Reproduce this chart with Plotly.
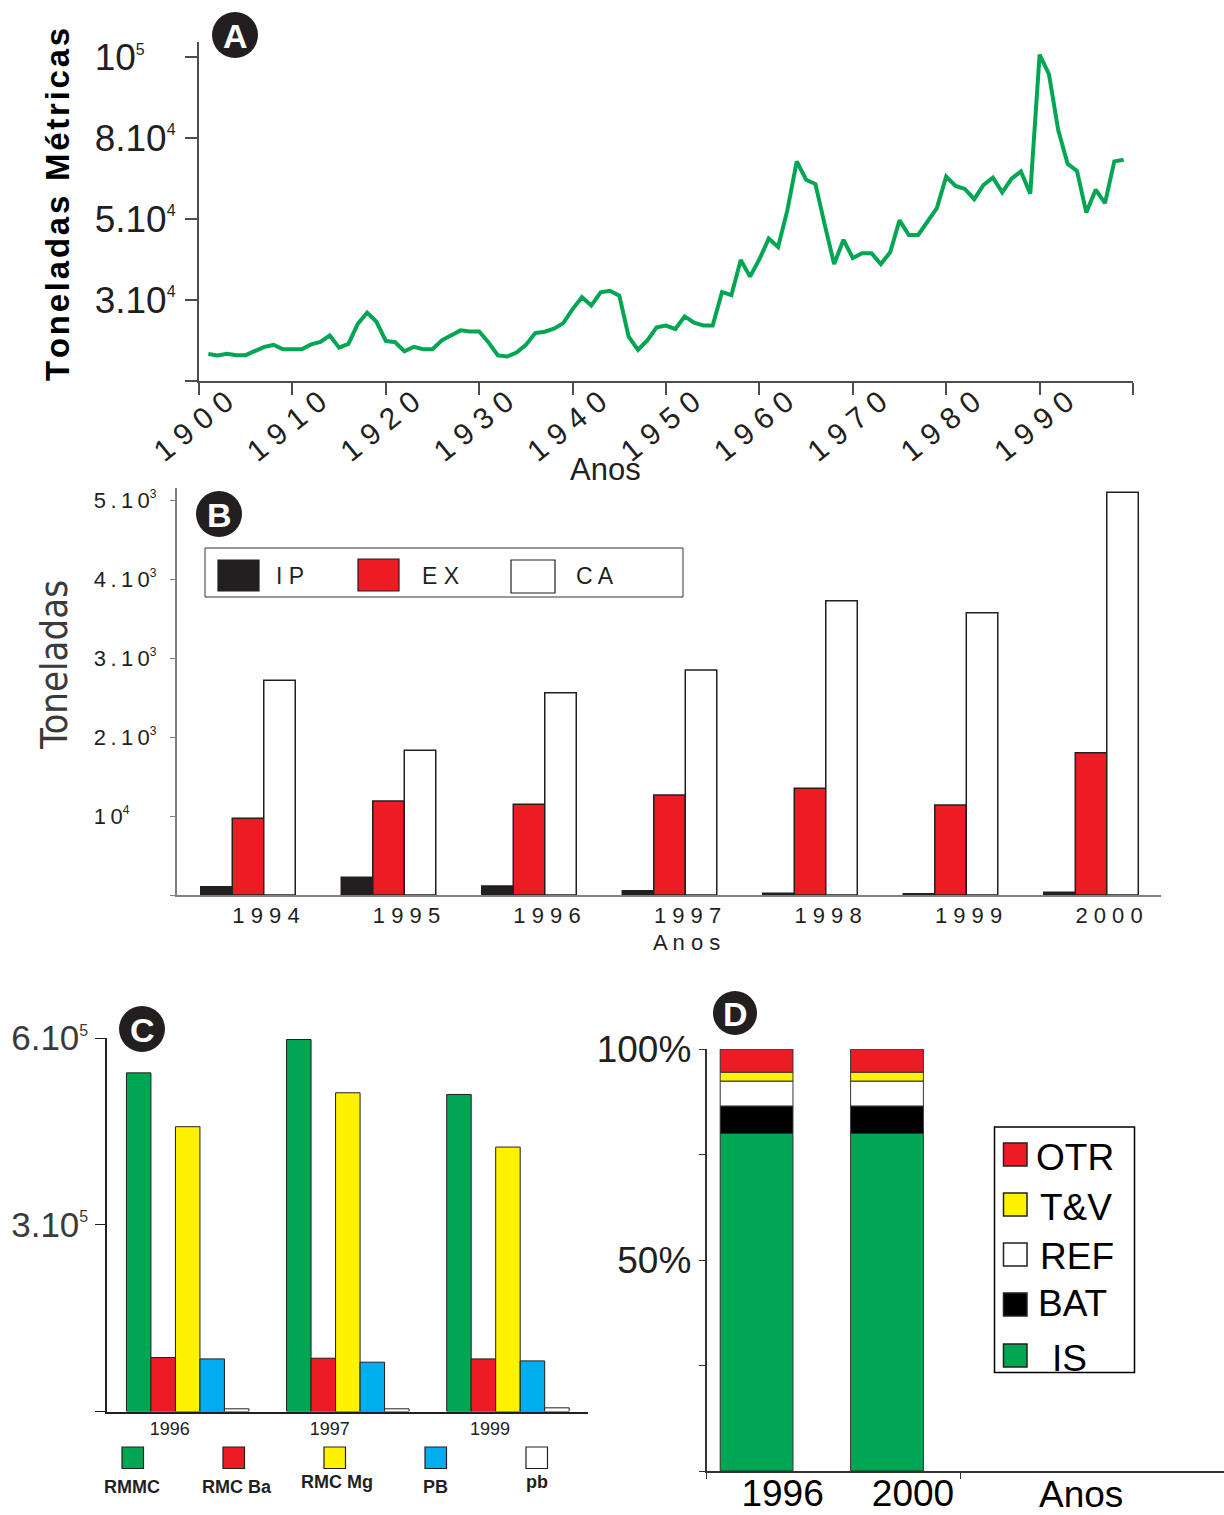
import numpy as np
import plotly.graph_objects as go

W, H = 1224, 1515
FONT = "Liberation Sans, Arial, sans-serif"
INK = "#231f20"

# ---------------- Panel A: annual production (metric tonnes) ----------------
YEARS_A = list(range(1901, 2000))
TONNES_A = [
    9800, 9300, 9900, 9400, 9400, 11000, 12500, 13200, 11600, 11600,
    11600, 13400, 14300, 16700, 12200, 13600, 21000, 25200, 21800, 14700,
    14200, 10800, 12500, 11600, 11600, 14900, 16600, 18600, 18200, 18200,
    14100, 9300, 8900, 10400, 13200, 17600, 18100, 19200, 21300, 26500,
    30600, 27800, 31800, 32200, 31000, 16300, 11400, 14900, 19700, 20400,
    19100, 23800, 21500, 20400, 20400, 31900, 31100, 39800, 35700, 40000,
    45100, 43000, 53300, 71300, 64500, 62900, 48500, 38800, 44800, 40300,
    41500, 41500, 38800, 41700, 49600, 46000, 46000, 49300, 54000, 65700,
    62200, 61100, 57300, 62600, 65300, 59800, 64900, 67600, 59300, 100600,
    95800, 81900, 70400, 67800, 52300, 60800, 55800, 71300, 71900,
]
A_TICK_VALUES = [0, 30000, 50000, 80000, 100000]
A_TICK_LABELS = ["", "3.10|4", "5.10|4", "8.10|4", "10|5"]
A_DECADES = list(range(1900, 2001, 10))

# ---------------- Panel B: IP / EX / CA (tonnes) ----------------
YEARS_B = [1994, 1995, 1996, 1997, 1998, 1999, 2000]
IP = [105, 224, 114, 55, 21, 17, 34]
EX = [970, 1190, 1148, 1266, 1350, 1139, 1802]
CA = [2717, 1831, 2561, 2848, 3726, 3574, 5097]
B_NAMES = ["IP", "EX", "CA"]
B_COLORS = ["#231f20", "#ed1c24", "#ffffff"]
B_TICK_VALUES = [0, 1000, 2000, 3000, 4000, 5000]
B_TICK_LABELS = ["", "10|4", "2.10|3", "3.10|3", "4.10|3", "5.10|3"]

# ---------------- Panel C: regions (tonnes) ----------------
YEARS_C = ["1996", "1997", "1999"]
RMMC = [544000, 597600, 509300]
RMC_BA = [86700, 85600, 84500]
RMC_MG = [457500, 512000, 424800]
PB_UP = [84500, 79200, 81300]
PB_LOW = [4300, 4300, 5900]
C_NAMES = ["RMMC", "RMC Ba", "RMC Mg", "PB", "pb"]
C_COLORS = ["#00a651", "#ed1c24", "#fff200", "#00aeef", "#ffffff"]
C_TICK_VALUES = [0, 300000, 600000]
C_TICK_LABELS = ["", "3.10|5", "6.10|5"]

# ---------------- Panel D: share by use (%) ----------------
YEARS_D = ["1996", "2000"]
IS = [80.0, 80.0]
BAT = [6.5, 6.5]
REF = [5.9, 5.9]
TV = [2.1, 2.1]
OTR = [5.5, 5.5]
D_NAMES = ["IS", "BAT", "REF", "T&V", "OTR"]
D_COLORS = ["#00a651", "#000000", "#ffffff", "#fff200", "#ed1c24"]


def px(x):
    return x / W


def py(y):
    return 1 - y / H


def spaced(s, sep=" "):
    return sep.join(list(s))


def power_label(label, sup_size, sep="", width=0):
    """'3.10|4' -> '3.10' with a small superscript exponent; shorter
    mantissas are padded with fixed-width spaces so the labels line up
    on their left edge."""
    if not label:
        return ""
    base, exp = label.split("|")
    pad = ""
    for ch in range(width - len(base)):
        pad += "\u2008" if ch % 2 else "\u2007"
        if sep:
            pad += sep
    return "%s<sup><span style='font-size:%dpx'>%s</span></sup>%s" % (
        spaced(base, sep) if sep else base, sup_size, exp, pad)


fig = go.Figure()

# --- A: line on the uneven tonnage scale
scale_vals = A_TICK_VALUES + [A_TICK_VALUES[-1] + 20000]
scale_pos = list(range(len(scale_vals)))
pos_a = np.interp(TONNES_A, scale_vals, scale_pos)
fig.add_trace(go.Scatter(x=YEARS_A, y=pos_a, mode="lines",
                         line=dict(color="#00a651", width=4),
                         xaxis="x", yaxis="y", showlegend=False))

# --- B: grouped bars
bw_b = 0.2242
for i, (vals, col) in enumerate(zip([IP, EX, CA], B_COLORS)):
    fig.add_trace(go.Bar(x=YEARS_B, y=vals, width=bw_b, offset=(i - 1.5) * bw_b,
                         marker=dict(color=col, line=dict(color=INK, width=1.5)),
                         xaxis="x2", yaxis="y2", showlegend=False, name=B_NAMES[i]))

# --- C: grouped bars
bw_c = 0.153
for i, (vals, col) in enumerate(zip([RMMC, RMC_BA, RMC_MG, PB_UP, PB_LOW], C_COLORS)):
    fig.add_trace(go.Bar(x=list(range(len(YEARS_C))), y=vals, width=bw_c,
                         offset=(i - 2.5) * bw_c,
                         marker=dict(color=col, line=dict(color=INK, width=1)),
                         xaxis="x3", yaxis="y3", showlegend=False, name=C_NAMES[i]))

# --- D: stacked percentage bars
d_series = [IS, BAT, REF, TV, OTR]
bases = np.vstack([np.zeros(len(YEARS_D))] + [np.array(s) for s in d_series[:-1]]).cumsum(axis=0)
bw_d = 0.558
for i, (vals, col) in enumerate(zip(d_series, D_COLORS)):
    fig.add_trace(go.Bar(x=list(range(len(YEARS_D))), y=vals, base=bases[i], width=bw_d,
                         offset=-bw_d / 2,
                         marker=dict(color=col, line=dict(color="#333333", width=1)),
                         xaxis="x4", yaxis="y4", showlegend=False, name=D_NAMES[i]))

shapes = []
annotations = []

# circled panel letters
for letter, cx, cy, r in [("A", 235, 35, 23), ("B", 219, 514, 23),
                          ("C", 142, 1029, 23), ("D", 735, 1013, 22)]:
    shapes.append(dict(type="circle", xref="paper", yref="paper",
                       x0=px(cx - r), x1=px(cx + r), y0=py(cy + r), y1=py(cy - r),
                       fillcolor=INK, line=dict(width=0), layer="above"))
    annotations.append(dict(text="<b>%s</b>" % letter, x=px(cx), y=py(cy + 1),
                            xref="paper", yref="paper", showarrow=False,
                            xanchor="center", yanchor="middle",
                            font=dict(family=FONT, size=34, color="white")))

# A axis titles
annotations.append(dict(text="<b>" + spaced("Toneladas Métricas", "\u200a") + "</b>",
                        x=px(58), y=py(205), xref="paper", yref="paper",
                        showarrow=False, textangle=-90, xanchor="center", yanchor="middle",
                        font=dict(family=FONT, size=33, color="black")))
annotations.append(dict(text="Anos", x=px(605), y=py(470), xref="paper", yref="paper",
                        showarrow=False, xanchor="center", yanchor="middle",
                        font=dict(family=FONT, size=31, color=INK)))

# B axis titles and legend
annotations.append(dict(text="Toneladas", x=px(54), y=py(665), xref="paper", yref="paper",
                        showarrow=False, textangle=-90, xanchor="center", yanchor="middle",
                        font=dict(family="Liberation Sans Narrow, Arial Narrow, DejaVu Sans Condensed, Liberation Sans",
                                  size=38, color="#3a3a3a")))
annotations.append(dict(text=spaced("Anos"), x=px(686), y=py(942), xref="paper", yref="paper",
                        showarrow=False, xanchor="center", yanchor="middle",
                        font=dict(family=FONT, size=22, color=INK)))
shapes.append(dict(type="rect", xref="paper", yref="paper",
                   x0=px(205), x1=px(683), y0=py(597), y1=py(548),
                   line=dict(color="#333333", width=1), fillcolor="white"))
b_leg = [(218, 259, 560, 591, 274), (358, 399, 559, 591, 420), (511, 555, 560, 593, 574)]
for (x0, x1, y0, y1, tx), name, col in zip(b_leg, B_NAMES, B_COLORS):
    shapes.append(dict(type="rect", xref="paper", yref="paper",
                       x0=px(x0), x1=px(x1), y0=py(y1), y1=py(y0),
                       fillcolor=col, line=dict(color=INK, width=1.2)))
    annotations.append(dict(text=spaced(name), x=px(tx), y=py(576), xref="paper", yref="paper",
                            showarrow=False, xanchor="left", yanchor="middle",
                            font=dict(family=FONT, size=23, color=INK)))

# C legend
c_leg_x = [122, 223, 324, 425, 526]
c_lab = [(132, 1487), (237, 1487), (337, 1482), (435, 1487), (537, 1482)]
for x0, (lx, ly), name, col in zip(c_leg_x, c_lab, C_NAMES, C_COLORS):
    shapes.append(dict(type="rect", xref="paper", yref="paper",
                       x0=px(x0), x1=px(x0 + 21.5), y0=py(1468.5), y1=py(1447),
                       fillcolor=col, line=dict(color=INK, width=1.2)))
    annotations.append(dict(text="<b>%s</b>" % name, x=px(lx), y=py(ly), xref="paper", yref="paper",
                            showarrow=False, xanchor="center", yanchor="middle",
                            font=dict(family=FONT, size=18, color=INK)))

# D legend and title
annotations.append(dict(text="Anos", x=px(1081), y=py(1494), xref="paper", yref="paper",
                        showarrow=False, xanchor="center", yanchor="middle",
                        font=dict(family=FONT, size=37, color="black")))
shapes.append(dict(type="rect", xref="paper", yref="paper",
                   x0=px(994.5), x1=px(1134.5), y0=py(1372.5), y1=py(1127),
                   line=dict(color="black", width=1.5), fillcolor="white"))
d_leg = [(1143, 1034, 1157), (1193, 1038, 1207), (1243, 1038, 1256),
         (1293, 1036, 1303), (1344, 1050, 1358)]
for (sy, tx, ty), name, col in zip(d_leg, D_NAMES[::-1], D_COLORS[::-1]):
    shapes.append(dict(type="rect", xref="paper", yref="paper",
                       x0=px(1003.5), x1=px(1027), y0=py(sy + 23), y1=py(sy),
                       fillcolor=col, line=dict(color="#222222", width=1.5)))
    annotations.append(dict(text=name, x=px(tx), y=py(ty), xref="paper", yref="paper",
                            showarrow=False, xanchor="left", yanchor="middle",
                            font=dict(family=FONT, size=37, color="black")))

axis_common = dict(showgrid=False, zeroline=False, showline=True, fixedrange=True,
                   automargin=False)

fig.update_layout(
    width=W, height=H, margin=dict(l=0, r=0, t=0, b=0, pad=0, autoexpand=False),
    paper_bgcolor="white", plot_bgcolor="rgba(0,0,0,0)",
    barmode="overlay", showlegend=False,
    font=dict(family=FONT, color=INK),
    shapes=shapes, annotations=annotations,
    xaxis=dict(axis_common, domain=[px(199), px(1133)], range=[1900, 2000], anchor="y",
               linecolor="#4d4d4d", linewidth=2, ticks="outside", ticklen=12, tickwidth=1.5,
               tickcolor="#4d4d4d", tickmode="array", tickvals=A_DECADES,
               ticktext=[spaced(str(d)) if d < 2000 else "" for d in A_DECADES],
               tickangle=-39, ticklabelshift=27, ticklabelstandoff=-22,
               tickfont=dict(family=FONT, size=30, color=INK)),
    yaxis=dict(axis_common, domain=[py(380.5), py(42)], range=[0, (380.5 - 42) / 80.85],
               anchor="x", linecolor="#4d4d4d", linewidth=2, ticks="outside", ticklen=12,
               tickwidth=1.5, tickcolor="#4d4d4d", tickmode="array",
               tickvals=list(range(len(A_TICK_VALUES))),
               ticktext=[power_label(t, 16, width=4) for t in A_TICK_LABELS],
               ticklabelstandoff=2, tickfont=dict(family=FONT, size=37, color=INK)),
    xaxis2=dict(axis_common, domain=[px(176.7), px(1161)], range=[1993.4925, 2000.498],
                anchor="y2", linecolor="#808080", linewidth=1.5, ticks="",
                tickmode="array", tickvals=YEARS_B, ticktext=[spaced(str(y)) for y in YEARS_B],
                ticklabelshift=18, tickfont=dict(family=FONT, size=22, color=INK)),
    yaxis2=dict(axis_common, domain=[py(895), py(488)], range=[0, 5152], anchor="x2",
                linecolor="#808080", linewidth=1.5, ticks="outside", ticklen=5, tickcolor="#808080",
                tickmode="array", tickvals=B_TICK_VALUES,
                ticktext=[power_label(t, 12, "\u2009", width=4) for t in B_TICK_LABELS],
                ticklabelstandoff=9, tickfont=dict(family=FONT, size=22, color=INK)),
    xaxis3=dict(axis_common, domain=[px(107), px(588)], range=[-0.504, 2.5], anchor="y3",
                linecolor=INK, linewidth=1.5, ticks="", tickmode="array",
                tickvals=list(range(len(YEARS_C))), ticktext=YEARS_C, ticklabelshift=-18,
                tickfont=dict(family=FONT, size=18, color=INK)),
    yaxis3=dict(axis_common, domain=[py(1411.5), py(1038)], range=[0, 600000], anchor="x3",
                linecolor=INK, linewidth=1.5, ticks="outside", ticklen=10, tickcolor=INK,
                tickmode="array", tickvals=C_TICK_VALUES,
                ticktext=[power_label(t, 16) for t in C_TICK_LABELS],
                ticklabelstandoff=0, tickfont=dict(family=FONT, size=35, color="#3a3a3a")),
    xaxis4=dict(axis_common, domain=[px(706.5), 1.0], range=[-0.384, 3.584], anchor="y4",
                linecolor="#333333", linewidth=1.5, ticks="", tickmode="array",
                tickvals=list(range(len(YEARS_D))), ticktext=YEARS_D, ticklabelshift=26,
                ticklabelstandoff=-11,
                tickfont=dict(family=FONT, size=37, color="black"),
                minor=dict(ticks="outside", ticklen=6, tickcolor="#333333",
                           tickmode="array", tickvals=[-0.384, 1.567])),
    yaxis4=dict(axis_common, domain=[py(1471), py(1049)], range=[0, 100], anchor="x4",
                linecolor="#333333", linewidth=1.5, ticks="outside", ticklen=6, tickcolor="#333333",
                tickmode="array", tickvals=[0, 25, 50, 75, 100],
                ticktext=["", "", "50%", "", "100%"],
                tickfont=dict(family=FONT, size=37, color=INK)),
)

fig.write_html("out.html", config={"displayModeBar": False})
